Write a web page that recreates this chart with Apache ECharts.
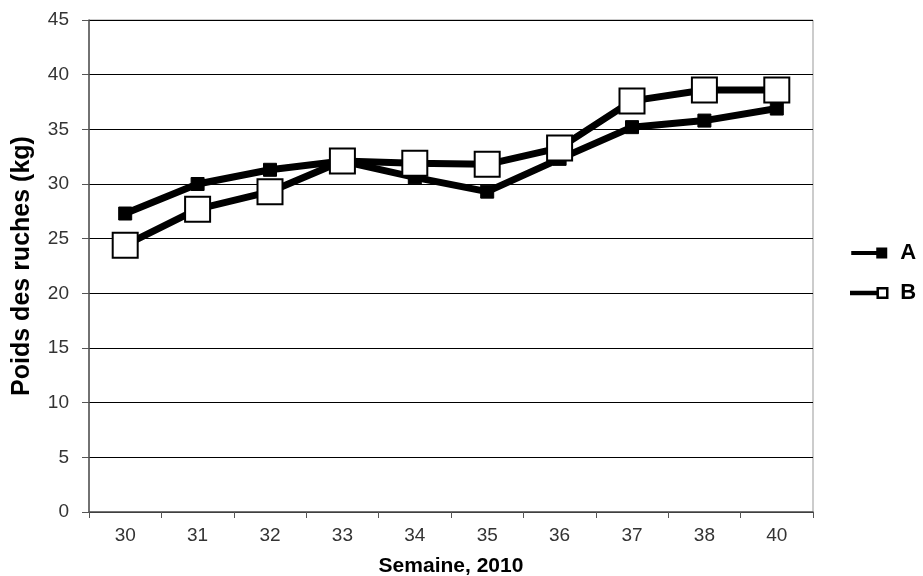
<!DOCTYPE html>
<html><head><meta charset="utf-8">
<script src="https://cdn.jsdelivr.net/npm/echarts@6/dist/echarts.min.js"></script>
<style>html,body{margin:0;padding:0;background:#fff}#c{width:923px;height:576px}</style>
</head><body><div id="c"></div>
<script>
const categories = ['30','31','32','33','34','35','36','37','38','40'];
const seriesA = [27.3, 30.0, 31.3, 32.1, 30.6, 29.3, 32.3, 35.2, 35.8, 36.9];
const seriesB = [24.4, 27.7, 29.3, 32.1, 31.9, 31.8, 33.3, 37.6, 38.6, 38.6];
const yTicks = {min: 0, max: 45, interval: 5};

const chart = echarts.init(document.getElementById('c'));
const font = 'Liberation Sans, Arial, sans-serif';
chart.setOption({
  animation: false,
  grid: {left: 89, right: 110, top: 20, bottom: 64, containLabel: false, outerBoundsMode: 'none',
         show: true, borderColor: '#999', borderWidth: 1, backgroundColor: 'transparent'},
  legend: {
    orient: 'vertical', left: 845, top: 236, itemGap: 16, itemWidth: 36, itemHeight: 11,
    textStyle: {fontFamily: font, fontSize: 22, fontWeight: 'bold', color: '#000', padding: [0, 0, 0, 8], lineHeight: 24},
    data: [
      {name: 'A', icon: 'path://M0,3.5H26V7.5H0Z M25,0H36V11H25Z', itemStyle: {color: '#000', borderWidth: 0}},
      {name: 'B', icon: 'path://M1,4.6H26V6.4H1Z M26,1H35V10H26Z', itemStyle: {color: '#fff', borderColor: '#000', borderWidth: 2.5}}
    ]
  },
  xAxis: {
    type: 'category', data: categories, boundaryGap: true,
    name: 'Semaine, 2010', nameLocation: 'middle', nameGap: 44,
    nameTextStyle: {fontFamily: font, fontSize: 21, fontWeight: 'bold', color: '#000'},
    axisLine: {lineStyle: {color: '#555', width: 1.5}},
    axisTick: {show: true, length: 6, lineStyle: {color: '#555'}},
    axisLabel: {fontFamily: font, fontSize: 19, color: '#333', margin: 14},
    splitLine: {show: false}
  },
  yAxis: {
    type: 'value', min: yTicks.min, max: yTicks.max, interval: yTicks.interval,
    name: 'Poids des ruches (kg)', nameLocation: 'middle', nameGap: 54,
    nameTextStyle: {fontFamily: font, fontSize: 25, fontWeight: 'bold', color: '#000'},
    axisLine: {show: true, lineStyle: {color: '#555', width: 1.5}},
    axisTick: {show: true, length: 7, lineStyle: {color: '#555'}},
    axisLabel: {fontFamily: font, fontSize: 19, color: '#333', margin: 20},
    splitLine: {show: true, lineStyle: {color: '#000', width: 1}}
  },
  series: [
    {name: 'A', type: 'line', data: seriesA, symbol: 'rect', symbolSize: 13,
     lineStyle: {color: '#000', width: 7}, itemStyle: {color: '#000', borderColor: '#000', borderWidth: 1}, z: 2},
    {name: 'B', type: 'line', data: seriesB, symbol: 'rect', symbolSize: 25,
     lineStyle: {color: '#000', width: 7}, itemStyle: {color: '#fff', borderColor: '#000', borderWidth: 2}, z: 3}
  ]
});
</script></body></html>
